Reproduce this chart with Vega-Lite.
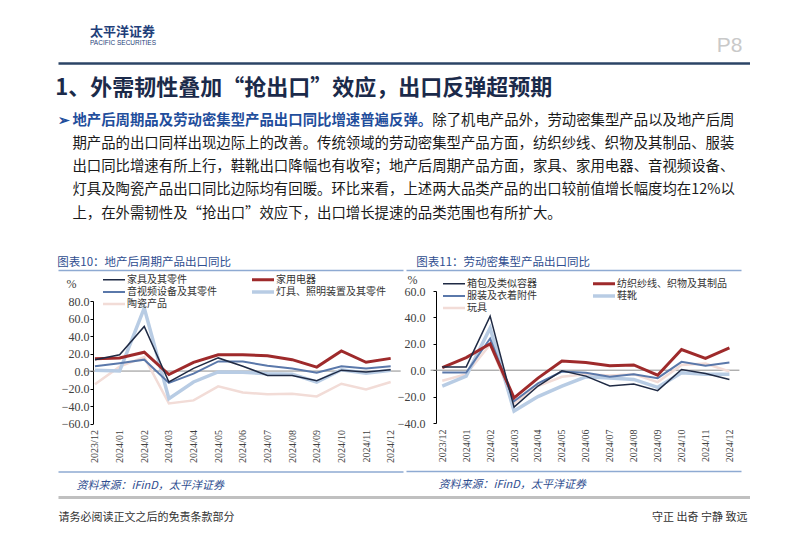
{
  "$schema": "https://vega.github.io/schema/vega-lite/v6.json",
  "background": "white",
  "padding": {"left": 55, "top": 26, "right": 0, "bottom": 0},
  "title": {"text": "太平洋证券", "subtitle": "PACIFIC SECURITIES", "anchor": "start", "frame": "group", "dx": 32, "offset": -12, "font": "Noto Sans CJK SC", "fontSize": 13, "fontWeight": "bold", "color": "#1f3f7a", "subtitleFont": "Liberation Sans", "subtitleFontSize": 6.5, "subtitleColor": "#1f3f7a", "subtitlePadding": 1},
  "datasets": {
    "para": [
      {"line": 1, "col": -1, "kind": "lead", "text": "➢"},
      {"line": 1, "col": 0, "kind": "lead", "text": "地产后周期品及劳动密集型产品出口同比增速普遍反弹。"},
      {"line": 1, "col": 25, "kind": "body", "text": "除了机电产品外，劳动密集型产品以及地产后周"},
      {"line": 2, "col": 0, "kind": "body", "text": "期产品的出口同样出现边际上的改善。传统领域的劳动密集型产品方面，纺织纱线、织物及其制品、服装"},
      {"line": 3, "col": 0, "kind": "body", "text": "出口同比增速有所上行，鞋靴出口降幅也有收窄；地产后周期产品方面，家具、家用电器、音视频设备、"},
      {"line": 4, "col": 0, "kind": "body", "text": "灯具及陶瓷产品出口同比边际均有回暖。环比来看，上述两大品类产品的出口较前值增长幅度均在12%以"},
      {"line": 5, "col": 0, "kind": "body", "text": "上，在外需韧性及“抢出口”效应下，出口增长提速的品类范围也有所扩大。"}
    ],
    "left": [
      {"series": "陶瓷产品", "month": "2023/12", "value": -15},
      {"series": "陶瓷产品", "month": "2024/01", "value": 5},
      {"series": "陶瓷产品", "month": "2024/02", "value": 16},
      {"series": "陶瓷产品", "month": "2024/03", "value": -37},
      {"series": "陶瓷产品", "month": "2024/04", "value": -33.5},
      {"series": "陶瓷产品", "month": "2024/05", "value": -17.5},
      {"series": "陶瓷产品", "month": "2024/06", "value": -24.5},
      {"series": "陶瓷产品", "month": "2024/07", "value": -26.5},
      {"series": "陶瓷产品", "month": "2024/08", "value": -26},
      {"series": "陶瓷产品", "month": "2024/09", "value": -29},
      {"series": "陶瓷产品", "month": "2024/10", "value": -14.5},
      {"series": "陶瓷产品", "month": "2024/11", "value": -21},
      {"series": "陶瓷产品", "month": "2024/12", "value": -12.5},
      {"series": "灯具、照明装置及其零件", "month": "2023/12", "value": 1},
      {"series": "灯具、照明装置及其零件", "month": "2024/01", "value": 0},
      {"series": "灯具、照明装置及其零件", "month": "2024/02", "value": 72},
      {"series": "灯具、照明装置及其零件", "month": "2024/03", "value": -31.5},
      {"series": "灯具、照明装置及其零件", "month": "2024/04", "value": -12.5},
      {"series": "灯具、照明装置及其零件", "month": "2024/05", "value": -1},
      {"series": "灯具、照明装置及其零件", "month": "2024/06", "value": -1.5},
      {"series": "灯具、照明装置及其零件", "month": "2024/07", "value": -3},
      {"series": "灯具、照明装置及其零件", "month": "2024/08", "value": -3.5},
      {"series": "灯具、照明装置及其零件", "month": "2024/09", "value": -12.5},
      {"series": "灯具、照明装置及其零件", "month": "2024/10", "value": 1.5},
      {"series": "灯具、照明装置及其零件", "month": "2024/11", "value": -2.5},
      {"series": "灯具、照明装置及其零件", "month": "2024/12", "value": 1},
      {"series": "音视频设备及其零件", "month": "2023/12", "value": 5.5},
      {"series": "音视频设备及其零件", "month": "2024/01", "value": 9},
      {"series": "音视频设备及其零件", "month": "2024/02", "value": 13},
      {"series": "音视频设备及其零件", "month": "2024/03", "value": -13.5},
      {"series": "音视频设备及其零件", "month": "2024/04", "value": -3},
      {"series": "音视频设备及其零件", "month": "2024/05", "value": 11},
      {"series": "音视频设备及其零件", "month": "2024/06", "value": 11},
      {"series": "音视频设备及其零件", "month": "2024/07", "value": 6},
      {"series": "音视频设备及其零件", "month": "2024/08", "value": 3},
      {"series": "音视频设备及其零件", "month": "2024/09", "value": -2},
      {"series": "音视频设备及其零件", "month": "2024/10", "value": 5.5},
      {"series": "音视频设备及其零件", "month": "2024/11", "value": 3},
      {"series": "音视频设备及其零件", "month": "2024/12", "value": 5.5},
      {"series": "家用电器", "month": "2023/12", "value": 14},
      {"series": "家用电器", "month": "2024/01", "value": 15},
      {"series": "家用电器", "month": "2024/02", "value": 21.5},
      {"series": "家用电器", "month": "2024/03", "value": -4},
      {"series": "家用电器", "month": "2024/04", "value": 10},
      {"series": "家用电器", "month": "2024/05", "value": 18.5},
      {"series": "家用电器", "month": "2024/06", "value": 18.5},
      {"series": "家用电器", "month": "2024/07", "value": 17.5},
      {"series": "家用电器", "month": "2024/08", "value": 13},
      {"series": "家用电器", "month": "2024/09", "value": 4.5},
      {"series": "家用电器", "month": "2024/10", "value": 23},
      {"series": "家用电器", "month": "2024/11", "value": 10},
      {"series": "家用电器", "month": "2024/12", "value": 14.5},
      {"series": "家具及其零件", "month": "2023/12", "value": 13},
      {"series": "家具及其零件", "month": "2024/01", "value": 18.5},
      {"series": "家具及其零件", "month": "2024/02", "value": 51},
      {"series": "家具及其零件", "month": "2024/03", "value": -12.5},
      {"series": "家具及其零件", "month": "2024/04", "value": 3},
      {"series": "家具及其零件", "month": "2024/05", "value": 15},
      {"series": "家具及其零件", "month": "2024/06", "value": 5.5},
      {"series": "家具及其零件", "month": "2024/07", "value": -5},
      {"series": "家具及其零件", "month": "2024/08", "value": -5},
      {"series": "家具及其零件", "month": "2024/09", "value": -11},
      {"series": "家具及其零件", "month": "2024/10", "value": 1},
      {"series": "家具及其零件", "month": "2024/11", "value": -1},
      {"series": "家具及其零件", "month": "2024/12", "value": 1.5}
    ],
    "right": [
      {"series": "玩具", "month": "2023/12", "value": -8},
      {"series": "玩具", "month": "2024/01", "value": -3},
      {"series": "玩具", "month": "2024/02", "value": 19.5},
      {"series": "玩具", "month": "2024/03", "value": -25},
      {"series": "玩具", "month": "2024/04", "value": -12},
      {"series": "玩具", "month": "2024/05", "value": -5},
      {"series": "玩具", "month": "2024/06", "value": -3},
      {"series": "玩具", "month": "2024/07", "value": -4},
      {"series": "玩具", "month": "2024/08", "value": -3},
      {"series": "玩具", "month": "2024/09", "value": -9},
      {"series": "玩具", "month": "2024/10", "value": 4},
      {"series": "玩具", "month": "2024/11", "value": 5},
      {"series": "玩具", "month": "2024/12", "value": -1},
      {"series": "鞋靴", "month": "2023/12", "value": -12},
      {"series": "鞋靴", "month": "2024/01", "value": -4.5},
      {"series": "鞋靴", "month": "2024/02", "value": 32},
      {"series": "鞋靴", "month": "2024/03", "value": -31},
      {"series": "鞋靴", "month": "2024/04", "value": -20},
      {"series": "鞋靴", "month": "2024/05", "value": -12},
      {"series": "鞋靴", "month": "2024/06", "value": -5},
      {"series": "鞋靴", "month": "2024/07", "value": -6},
      {"series": "鞋靴", "month": "2024/08", "value": -7},
      {"series": "鞋靴", "month": "2024/09", "value": -13},
      {"series": "鞋靴", "month": "2024/10", "value": -2},
      {"series": "鞋靴", "month": "2024/11", "value": -3},
      {"series": "鞋靴", "month": "2024/12", "value": -3},
      {"series": "服装及衣着附件", "month": "2023/12", "value": -1.8},
      {"series": "服装及衣着附件", "month": "2024/01", "value": -1.8},
      {"series": "服装及衣着附件", "month": "2024/02", "value": 24},
      {"series": "服装及衣着附件", "month": "2024/03", "value": -23.5},
      {"series": "服装及衣着附件", "month": "2024/04", "value": -10},
      {"series": "服装及衣着附件", "month": "2024/05", "value": -1},
      {"series": "服装及衣着附件", "month": "2024/06", "value": -2},
      {"series": "服装及衣着附件", "month": "2024/07", "value": -5},
      {"series": "服装及衣着附件", "month": "2024/08", "value": -3},
      {"series": "服装及衣着附件", "month": "2024/09", "value": -6},
      {"series": "服装及衣着附件", "month": "2024/10", "value": 6.3},
      {"series": "服装及衣着附件", "month": "2024/11", "value": 3.3},
      {"series": "服装及衣着附件", "month": "2024/12", "value": 5.8},
      {"series": "纺织纱线、织物及其制品", "month": "2023/12", "value": 2},
      {"series": "纺织纱线、织物及其制品", "month": "2024/01", "value": 9.5},
      {"series": "纺织纱线、织物及其制品", "month": "2024/02", "value": 20},
      {"series": "纺织纱线、织物及其制品", "month": "2024/03", "value": -21},
      {"series": "纺织纱线、织物及其制品", "month": "2024/04", "value": -6},
      {"series": "纺织纱线、织物及其制品", "month": "2024/05", "value": 7},
      {"series": "纺织纱线、织物及其制品", "month": "2024/06", "value": 5.8},
      {"series": "纺织纱线、织物及其制品", "month": "2024/07", "value": 3.3},
      {"series": "纺织纱线、织物及其制品", "month": "2024/08", "value": 4},
      {"series": "纺织纱线、织物及其制品", "month": "2024/09", "value": -3.8},
      {"series": "纺织纱线、织物及其制品", "month": "2024/10", "value": 15.7},
      {"series": "纺织纱线、织物及其制品", "month": "2024/11", "value": 9},
      {"series": "纺织纱线、织物及其制品", "month": "2024/12", "value": 17},
      {"series": "箱包及类似容器", "month": "2023/12", "value": 2.5},
      {"series": "箱包及类似容器", "month": "2024/01", "value": 2.5},
      {"series": "箱包及类似容器", "month": "2024/02", "value": 41},
      {"series": "箱包及类似容器", "month": "2024/03", "value": -28},
      {"series": "箱包及类似容器", "month": "2024/04", "value": -12},
      {"series": "箱包及类似容器", "month": "2024/05", "value": -0.5},
      {"series": "箱包及类似容器", "month": "2024/06", "value": -4.5},
      {"series": "箱包及类似容器", "month": "2024/07", "value": -12},
      {"series": "箱包及类似容器", "month": "2024/08", "value": -10.5},
      {"series": "箱包及类似容器", "month": "2024/09", "value": -15.5},
      {"series": "箱包及类似容器", "month": "2024/10", "value": 0.5},
      {"series": "箱包及类似容器", "month": "2024/11", "value": -2.5},
      {"series": "箱包及类似容器", "month": "2024/12", "value": -7}
    ]
  },
  "spacing": 0,
  "resolve": {"scale": {"x": "independent", "y": "independent", "color": "independent", "strokeWidth": "independent"}},
  "vconcat": [
    {
      "width": 692, "height": 1,
      "data": {"values": [{"v": 0}]},
      "mark": {"type": "point", "opacity": 0},
      "encoding": {
        "x": {"field": "v", "type": "quantitative", "scale": {"domain": [0, 1]},
          "axis": {"orient": "top", "domainColor": "#2b4466", "domainWidth": 2.5, "labels": false, "ticks": false, "grid": false,
            "title": "P8", "titleX": 684, "titleY": -11.5, "titleAlign": "right", "titleBaseline": "alphabetic", "titleFont": "Liberation Sans", "titleFontSize": 21, "titleFontWeight": "normal", "titleColor": "#c9c9c9"}}
      },
      "title": {"text": "1、外需韧性叠加“抢出口”效应，出口反弹超预期", "orient": "bottom", "anchor": "start", "offset": 12, "font": "Noto Sans CJK SC", "fontSize": 22, "fontWeight": "bold", "color": "#1b2a4a"}
    },
    {
      "width": 691, "height": 155.3,
      "data": {"name": "para"},
      "encoding": {
        "x": {"field": "col", "type": "quantitative", "scale": {"domain": [-1, 47], "nice": false, "zero": false}, "axis": null},
        "y": {"field": "line", "type": "quantitative", "scale": {"domain": [0.12, 6.785], "nice": false, "zero": false, "reverse": true}, "axis": null},
        "text": {"field": "text"}
      },
      "layer": [
        {"transform": [{"filter": "datum.kind === 'lead'"}], "mark": {"type": "text", "align": "left", "baseline": "middle", "font": "Noto Sans CJK SC", "fontSize": 14.4, "fontWeight": "bold", "color": "#1f4e9c"}},
        {"transform": [{"filter": "datum.kind === 'body'"}], "mark": {"type": "text", "align": "left", "baseline": "middle", "font": "Noto Sans CJK SC", "fontSize": 14.4, "fontWeight": "normal", "color": "#1a1a1a"}}
      ]
    },
    {
      "spacing": -6,
      "resolve": {"scale": {"x": "independent", "y": "independent", "color": "independent", "strokeWidth": "independent"}},
      "hconcat": [
        {
          "spacing": 0,
          "bounds": "flush",
          "resolve": {"scale": {"x": "independent", "y": "independent"}},
          "vconcat": [
            {
              "width": 345, "height": 30.7,
              "data": {"values": [{"v": 0}]},
              "mark": {"type": "point", "opacity": 0},
              "encoding": {"x": {"field": "v", "type": "quantitative", "scale": {"domain": [0, 1]},
                "axis": {"orient": "top", "domainColor": "#8eaad2", "domainWidth": 1.5, "labels": false, "ticks": false, "grid": false, "title": null}}},
              "title": {"text": "图表10：地产后周期产品出口同比", "anchor": "start", "dx": 2, "offset": 2, "font": "Noto Sans CJK SC", "fontSize": 11.5, "fontWeight": "normal", "color": "#2e4d8f"}
            },
            {
              "width": 345, "height": 122.6,
              "layer": [
                {"data": {"values": [{}]}, "mark": {"type": "rule", "color": "#8c8c8c", "strokeWidth": 1, "xOffset": -10, "x2Offset": 10},
                  "encoding": {"x": {"datum": "2023/12", "type": "ordinal"}, "x2": {"datum": "2024/12"},
                    "y": {"datum": 0, "type": "quantitative",
                      "axis": {"orient": "left", "offset": -35, "values": [-60, -40, -20, 0, 20, 40, 60, 80], "format": ".1f", "grid": false, "labelOverlap": false, "domainColor": "#000000", "tickColor": "#000000", "tickSize": 3, "labelPadding": 1, "labelFont": "Liberation Serif", "labelFontSize": 12, "labelColor": "#404040",
                        "title": "%", "titleAngle": 0, "titleX": -22, "titleY": -17.7, "titleAlign": "center", "titleBaseline": "middle", "titleFont": "Liberation Serif", "titleFontSize": 12, "titleFontWeight": "normal", "titleColor": "#404040"}}}},
                {"data": {"name": "left"}, "mark": {"type": "line"},
                  "encoding": {
                    "x": {"field": "month", "type": "ordinal", "scale": {"type": "point", "padding": 1.263, "align": 0.75},
                      "axis": {"orient": "bottom", "title": null, "labelAngle": -90, "labelAlign": "right", "labelBaseline": "middle", "labelPadding": 6, "domain": false, "ticks": false, "labelOverlap": false, "labelFont": "Liberation Serif", "labelFontSize": 10, "labelColor": "#404040"}},
                    "y": {"field": "value", "type": "quantitative", "scale": {"domain": [-60, 80], "nice": false, "zero": false},
                      "axis": {"orient": "left", "offset": -35, "values": [-60, -40, -20, 0, 20, 40, 60, 80], "format": ".1f", "grid": false, "labelOverlap": false, "domainColor": "#000000", "tickColor": "#000000", "tickSize": 3, "labelPadding": 1, "labelFont": "Liberation Serif", "labelFontSize": 12, "labelColor": "#404040",
                        "title": "%", "titleAngle": 0, "titleX": -22, "titleY": -17.7, "titleAlign": "center", "titleBaseline": "middle", "titleFont": "Liberation Serif", "titleFontSize": 12, "titleFontWeight": "normal", "titleColor": "#404040"}},
                    "color": {"field": "series", "type": "nominal",
                      "scale": {"domain": ["家具及其零件", "音视频设备及其零件", "陶瓷产品", "家用电器", "灯具、照明装置及其零件"], "range": ["#1f2a44", "#5a78aa", "#f2dcd7", "#9e2a2b", "#b8cce4"]},
                      "legend": {"title": null, "orient": "none", "legendX": 43, "legendY": 4.2, "columns": 2, "columnPadding": 33, "rowPadding": 1.2, "symbolType": "stroke", "symbolSize": 484, "clipHeight": 11, "labelFont": "Noto Sans CJK SC", "labelFontSize": 10, "labelColor": "#333333", "labelOffset": 0, "padding": 0}},
                    "strokeWidth": {"field": "series", "type": "nominal",
                      "scale": {"domain": ["家具及其零件", "音视频设备及其零件", "陶瓷产品", "家用电器", "灯具、照明装置及其零件"], "range": [1.5, 3.5, 2.5, 3.5, 3]},
                      "legend": {"title": null, "orient": "none", "legendX": 43, "legendY": 4.2, "columns": 2, "columnPadding": 33, "rowPadding": 1.2, "symbolType": "stroke", "symbolSize": 484, "clipHeight": 11, "labelFont": "Noto Sans CJK SC", "labelFontSize": 10, "labelColor": "#333333", "labelOffset": 0, "padding": 0}}
                  }}
              ]
            },
            {
              "width": 345, "height": 47.4,
              "data": {"values": [{"v": 0}]},
              "mark": {"type": "point", "opacity": 0},
              "encoding": {"x": {"field": "v", "type": "quantitative", "scale": {"domain": [0, 1]},
                "axis": {"orient": "bottom", "domainColor": "#8eaad2", "domainWidth": 1.5, "labels": false, "ticks": false, "grid": false,
                  "title": "资料来源：iFinD，太平洋证券", "titleX": 18, "titleY": 13.6, "titleAlign": "left", "titleBaseline": "middle", "titleFont": "Noto Sans CJK SC", "titleFontStyle": "italic", "titleFontWeight": "normal", "titleFontSize": 11, "titleColor": "#2e4d8f"}}}
            }
          ]
        },
        {
          "spacing": 0,
          "bounds": "flush",
          "resolve": {"scale": {"x": "independent", "y": "independent"}},
          "vconcat": [
            {
              "width": 335, "height": 20.7,
              "data": {"values": [{"v": 0}]},
              "mark": {"type": "point", "opacity": 0},
              "encoding": {"x": {"field": "v", "type": "quantitative", "scale": {"domain": [0, 1]},
                "axis": {"orient": "top", "domainColor": "#8eaad2", "domainWidth": 1.5, "labels": false, "ticks": false, "grid": false, "title": null}}},
              "title": {"text": "图表11：劳动密集型产品出口同比", "anchor": "start", "dx": 13, "offset": 2, "font": "Noto Sans CJK SC", "fontSize": 11.5, "fontWeight": "normal", "color": "#2e4d8f"}
            },
            {
              "width": 335, "height": 132,
              "layer": [
                {"data": {"values": [{}]}, "mark": {"type": "rule", "color": "#8c8c8c", "strokeWidth": 1, "xOffset": -11.7, "x2Offset": 10},
                  "encoding": {"x": {"datum": "2023/12", "type": "ordinal"}, "x2": {"datum": "2024/12"},
                    "y": {"datum": 0, "type": "quantitative",
                      "axis": {"orient": "left", "offset": -30, "values": [-40, -20, 0, 20, 40, 60], "format": ".1f", "grid": false, "labelOverlap": false, "domainColor": "#000000", "tickColor": "#000000", "tickSize": 3, "labelPadding": 8, "labelFont": "Liberation Serif", "labelFontSize": 12, "labelColor": "#404040",
                        "title": "%", "titleAngle": 0, "titleX": -24, "titleY": -11.5, "titleAlign": "center", "titleBaseline": "middle", "titleFont": "Liberation Serif", "titleFontSize": 12, "titleFontWeight": "normal", "titleColor": "#404040"}}}},
                {"data": {"name": "right"}, "mark": {"type": "line"},
                  "encoding": {
                    "x": {"field": "month", "type": "ordinal", "scale": {"type": "point", "padding": 1.179, "align": 0.758},
                      "axis": {"orient": "bottom", "title": null, "labelAngle": -90, "labelAlign": "right", "labelBaseline": "middle", "labelPadding": 6, "domain": false, "ticks": false, "labelOverlap": false, "labelFont": "Liberation Serif", "labelFontSize": 10, "labelColor": "#404040"}},
                    "y": {"field": "value", "type": "quantitative", "scale": {"domain": [-40, 60], "nice": false, "zero": false},
                      "axis": {"orient": "left", "offset": -30, "values": [-40, -20, 0, 20, 40, 60], "format": ".1f", "grid": false, "labelOverlap": false, "domainColor": "#000000", "tickColor": "#000000", "tickSize": 3, "labelPadding": 8, "labelFont": "Liberation Serif", "labelFontSize": 12, "labelColor": "#404040",
                        "title": "%", "titleAngle": 0, "titleX": -24, "titleY": -11.5, "titleAlign": "center", "titleBaseline": "middle", "titleFont": "Liberation Serif", "titleFontSize": 12, "titleFontWeight": "normal", "titleColor": "#404040"}},
                    "color": {"field": "series", "type": "nominal",
                      "scale": {"domain": ["箱包及类似容器", "服装及衣着附件", "玩具", "纺织纱线、织物及其制品", "鞋靴"], "range": ["#1f2a44", "#5a78aa", "#f2dcd7", "#9e2a2b", "#b8cce4"]},
                      "legend": {"title": null, "orient": "none", "legendX": 35, "legendY": 8.2, "columns": 2, "columnPadding": 54, "rowPadding": 1.2, "symbolType": "stroke", "symbolSize": 484, "clipHeight": 11, "labelFont": "Noto Sans CJK SC", "labelFontSize": 10, "labelColor": "#333333", "labelOffset": 0, "padding": 0}},
                    "strokeWidth": {"field": "series", "type": "nominal",
                      "scale": {"domain": ["箱包及类似容器", "服装及衣着附件", "玩具", "纺织纱线、织物及其制品", "鞋靴"], "range": [1.5, 3.5, 2.5, 3.5, 3]},
                      "legend": {"title": null, "orient": "none", "legendX": 35, "legendY": 8.2, "columns": 2, "columnPadding": 54, "rowPadding": 1.2, "symbolType": "stroke", "symbolSize": 484, "clipHeight": 11, "labelFont": "Noto Sans CJK SC", "labelFontSize": 10, "labelColor": "#333333", "labelOffset": 0, "padding": 0}}
                  }}
              ]
            },
            {
              "width": 335, "height": 48,
              "data": {"values": [{"v": 0}]},
              "mark": {"type": "point", "opacity": 0},
              "encoding": {"x": {"field": "v", "type": "quantitative", "scale": {"domain": [0, 1]},
                "axis": {"orient": "bottom", "domainColor": "#8eaad2", "domainWidth": 1.5, "labels": false, "ticks": false, "grid": false,
                  "title": "资料来源：iFinD，太平洋证券", "titleX": 32, "titleY": 13.6, "titleAlign": "left", "titleBaseline": "middle", "titleFont": "Noto Sans CJK SC", "titleFontStyle": "italic", "titleFontWeight": "normal", "titleFontSize": 11, "titleColor": "#2e4d8f"}}}
            }
          ]
        }
      ]
    },
    {
      "width": 692, "height": 7,
      "data": {"values": [{"v": 0}]},
      "mark": {"type": "point", "opacity": 0},
      "encoding": {
        "x": {"field": "v", "type": "quantitative", "scale": {"domain": [0, 1]},
          "axis": {"orient": "bottom", "domainColor": "#c0c0c0", "domainWidth": 3, "labels": false, "ticks": false, "grid": false,
            "title": "请务必阅读正文之后的免责条款部分", "titleX": 0, "titleY": 20, "titleAlign": "left", "titleBaseline": "middle", "titleFont": "Noto Sans CJK SC", "titleFontSize": 11, "titleFontWeight": "normal", "titleColor": "#333333"}},
        "y": {"field": "v", "type": "quantitative", "scale": {"domain": [0, 1]},
          "axis": {"orient": "left", "domain": false, "labels": false, "ticks": false, "grid": false,
            "title": "守正 出奇 宁静 致远", "titleAngle": 0, "titleX": 689, "titleY": 27, "titleAlign": "right", "titleBaseline": "middle", "titleFont": "Noto Sans CJK SC", "titleFontSize": 11, "titleFontWeight": "normal", "titleColor": "#333333"}}
      }
    }
  ],
  "config": {"view": {"stroke": null}, "axis": {"grid": false, "labelOverlap": false}}
}
